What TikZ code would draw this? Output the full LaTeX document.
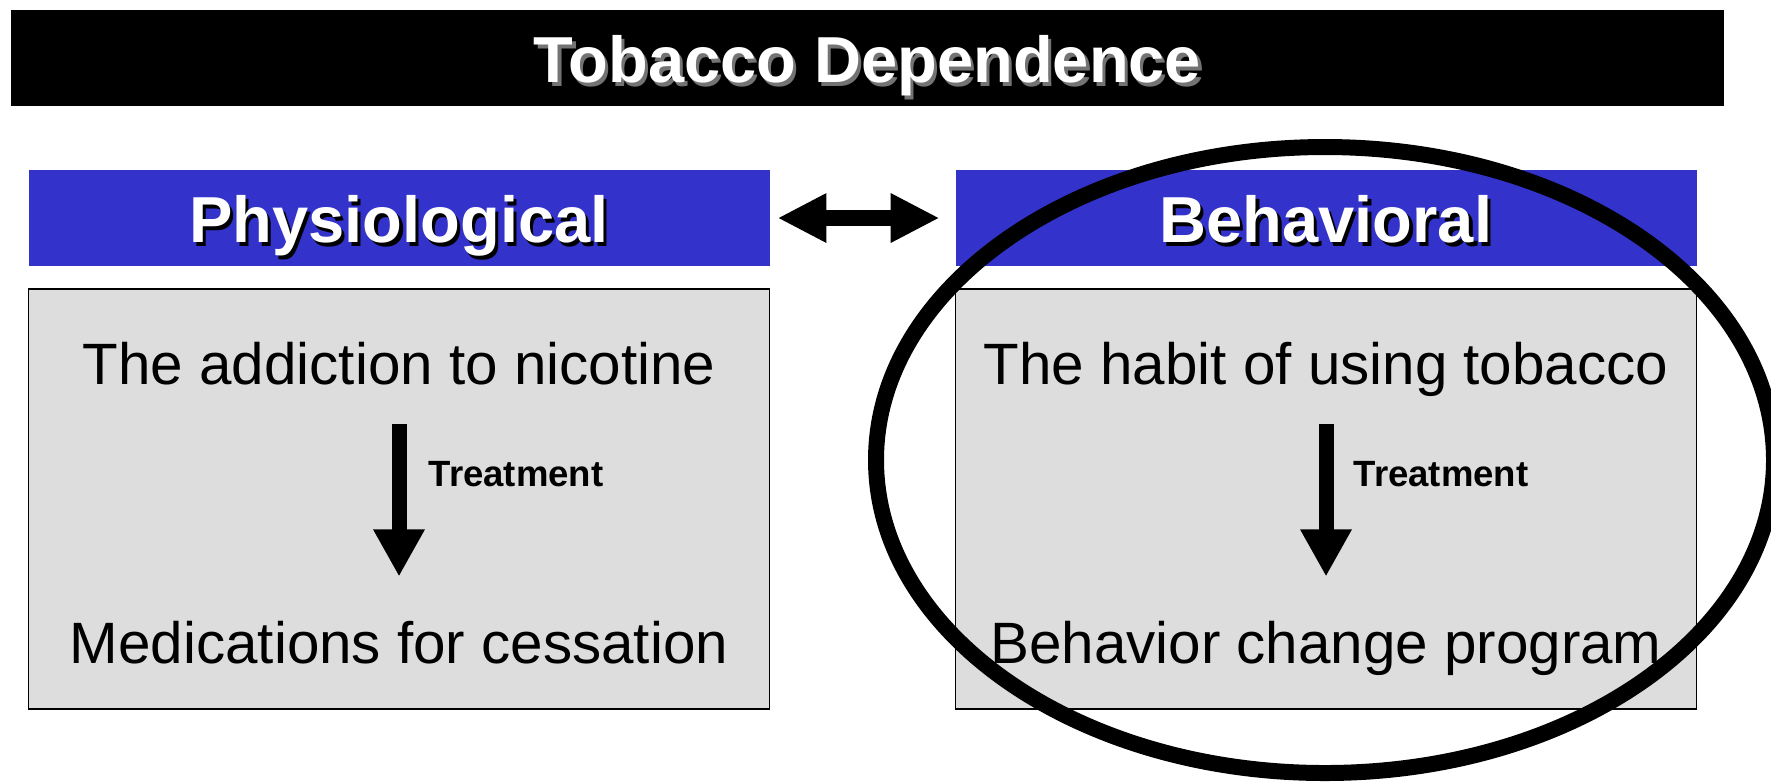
\documentclass[tikz,border=0pt]{standalone}
\usepackage{fontspec}
\setmainfont{Liberation Sans}
\usetikzlibrary{arrows.meta,positioning}
\usepackage{xcolor}

\definecolor{hdrblue}{HTML}{3333CC}
\definecolor{boxgray}{HTML}{DDDDDD}
\newcommand{\shadowed}[2]{\makebox[0pt][l]{\hspace{0.9pt}\raisebox{-0.9pt}{\color{#1}#2}}#2}

\begin{document}
\begin{tikzpicture}[
  x=0.1mm, y=-0.1mm,
  titlebar/.style={fill=black, text=white, inner sep=0, outer sep=0,
                   minimum width=171.3mm, minimum height=9.6mm,
                   text height=14.2pt, text depth=0pt,
                   font=\fontsize{18.5}{22}\selectfont\bfseries},
  hdr/.style={fill=hdrblue, text=white, inner sep=0, outer sep=0,
              minimum width=74.1mm, minimum height=9.6mm,
              text height=14.2pt, text depth=0pt,
              font=\fontsize{18.5}{22}\selectfont\bfseries},
  box/.style={draw, line width=0.5pt, fill=boxgray, inner sep=0,
              outer sep=0, minimum width=74.1mm, minimum height=42mm},
  body/.style={anchor=base, inner sep=0, text height=12.2pt,
               text depth=3.5pt, font=\fontsize{16.6}{20}\selectfont},
  lbl/.style={anchor=base west, inner sep=0,
              font=\fontsize{10.4}{12}\selectfont\bfseries},
  dblarr/.style={line width=4.55pt,
                 {Triangle[length=13.9pt,width=13.1pt]}-{Triangle[length=13.9pt,width=13.1pt]},
                 shorten <=2.3pt, shorten >=4.55pt},
  treat/.style={line width=4.27pt, -{Triangle[length=13.4pt,width=13.7pt]},
                shorten <=7.6pt, shorten >=12.2pt},
  ring/.style={line width=4.55pt}
]
\useasboundingbox (0,0) rectangle (1771,783);

\node[titlebar] (title) at (867.5,58) {\shadowed{black!55}{Tobacco Dependence}};

\node[hdr] (physio) at (399,218) {\shadowed{black}{Physiological}};
\node[hdr, right=18.6mm of physio] (behav) {\shadowed{black}{Behavioral}};

\node[box, below=2.3mm of physio] (lbox) {};
\node[box, below=2.3mm of behav] (rbox) {};

\node[body] (nic) at (399,384) {The addiction to nicotine};
\node[body] (med) at (399,663) {Medications for cessation};
\node[body] (hab) at (1326,384) {The habit of using tobacco};
\node[body] (prog) at (1326,663) {Behavior change program};

\draw[treat] (nic) -- (med);
\node[lbl] (ltreat) at (428,486) {Treatment};
\draw[treat] (hab) -- (prog);
\node[lbl] (rtreat) at (1353,486) {Treatment};

\draw[dblarr] (physio) -- (behav);

% highlight round the behavioral side
\draw[ring] (1325,460) ellipse [x radius=44.9mm, y radius=31.3mm];
\end{tikzpicture}
\end{document}
